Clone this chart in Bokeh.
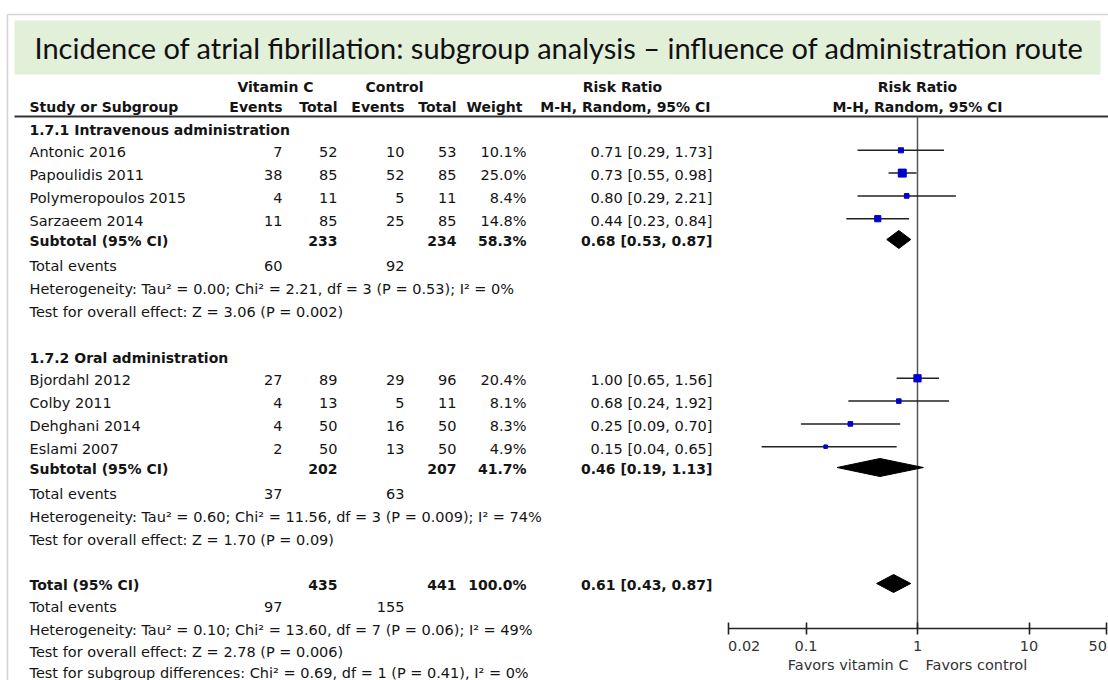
import math
from bokeh.plotting import figure
from bokeh.models import ColumnDataSource, Range1d, LogScale, LinearAxis, FixedTicker
from bokeh.core.properties import value
from bokeh.embed import file_html
from bokeh.resources import INLINE

# ---------------- data ----------------
TITLE = "Incidence of atrial fibrillation: subgroup analysis \u2013 influence of administration route"

iv_label = "1.7.1 Intravenous administration"
iv_studies = ["Antonic 2016", "Papoulidis 2011", "Polymeropoulos 2015", "Sarzaeem 2014"]
iv_vc_events = [7, 38, 4, 11]
iv_vc_total = [52, 85, 11, 85]
iv_ct_events = [10, 52, 5, 25]
iv_ct_total = [53, 85, 11, 85]
iv_weight = [10.1, 25.0, 8.4, 14.8]
iv_rr = [0.71, 0.73, 0.80, 0.44]
iv_lo = [0.29, 0.55, 0.29, 0.23]
iv_hi = [1.73, 0.98, 2.21, 0.84]
iv_sub = dict(vc_total=233, ct_total=234, weight=58.3, rr=0.68, lo=0.53, hi=0.87,
              vc_events=60, ct_events=92)
iv_het = "Heterogeneity: Tau\u00b2 = 0.00; Chi\u00b2 = 2.21, df = 3 (P = 0.53); I\u00b2 = 0%"
iv_test = "Test for overall effect: Z = 3.06 (P = 0.002)"

or_label = "1.7.2 Oral administration"
or_studies = ["Bjordahl 2012", "Colby 2011", "Dehghani 2014", "Eslami 2007"]
or_vc_events = [27, 4, 4, 2]
or_vc_total = [89, 13, 50, 50]
or_ct_events = [29, 5, 16, 13]
or_ct_total = [96, 11, 50, 50]
or_weight = [20.4, 8.1, 8.3, 4.9]
or_rr = [1.00, 0.68, 0.25, 0.15]
or_lo = [0.65, 0.24, 0.09, 0.04]
or_hi = [1.56, 1.92, 0.70, 0.65]
or_sub = dict(vc_total=202, ct_total=207, weight=41.7, rr=0.46, lo=0.19, hi=1.13,
              vc_events=37, ct_events=63)
or_het = "Heterogeneity: Tau\u00b2 = 0.60; Chi\u00b2 = 11.56, df = 3 (P = 0.009); I\u00b2 = 74%"
or_test = "Test for overall effect: Z = 1.70 (P = 0.09)"

tot = dict(vc_total=435, ct_total=441, weight=100.0, rr=0.61, lo=0.43, hi=0.87,
           vc_events=97, ct_events=155)
tot_het = "Heterogeneity: Tau\u00b2 = 0.10; Chi\u00b2 = 13.60, df = 7 (P = 0.06); I\u00b2 = 49%"
tot_test = "Test for overall effect: Z = 2.78 (P = 0.006)"
sub_diff = "Test for subgroup differences: Chi\u00b2 = 0.69, df = 1 (P = 0.41), I\u00b2 = 0%"

tick_values = [0.02, 0.1, 1, 10, 50]
tick_labels = ["0.02", "0.1", "1", "10", "50"]
favors_left = "Favors vitamin C"
favors_right = "Favors control"
NULL_RR = 1.0

# ---------------- layout ----------------
W, H = 1108, 680
FONT = "DejaVu Sans"
FS = "14.5px"
FSB = "14px"
TXT = "#141414"

X_NAME = 29
X_VCE, X_VCT, X_CTE, X_CTT, X_W, X_RR = 282, 337, 404, 456, 526, 712
PX_ONE, PX_DECADE = 917.0, 111.5

ROW0, ROWH = 129.0, 22.8
def ry(i, adj=0.0):
    return ROW0 + i * ROWH + adj

p = figure(width=W, height=H, x_range=Range1d(0, W), y_range=Range1d(H, 0),
           output_backend="svg", toolbar_location=None,
           x_axis_type=None, y_axis_type=None, min_border=0,
           outline_line_color=None, background_fill_color="white")

start = 10 ** (math.log10(NULL_RR) - PX_ONE / PX_DECADE)
end = 10 ** (math.log10(NULL_RR) + (W - PX_ONE) / PX_DECADE)
p.extra_x_ranges = {"rr": Range1d(start, end)}
p.extra_x_scales = {"rr": LogScale()}

# frame and title band
p.segment(x0=[7, 7], y0=[14, 14], x1=[W, 7], y1=[14, H], line_color="#d4d4d4", line_width=1.5)
p.quad(left=[14], right=[1100], top=[20], bottom=[74], fill_color="#e2efd9", line_color=None)
p.text(x=[34], y=[47], text=[TITLE], text_font=value("Lato"), text_font_size="29px",
       text_baseline="middle", text_align="left", text_color="#111111")

# header line
p.segment(x0=[14], y0=[116], x1=[W], y1=[116], line_color="#333333", line_width=2)

texts = {}  # key: (align, bold) -> lists
def add(x, y, t, align="left", bold=False):
    d = texts.setdefault((align, bold), {"x": [], "y": [], "t": []})
    d["x"].append(x); d["y"].append(y); d["t"].append(t)

# headers
H1, H2 = 86, 106
add(275, H1, "Vitamin C", "center", True)
add(394, H1, "Control", "center", True)
add(622, H1, "Risk Ratio", "center", True)
add(X_NAME, H2, "Study or Subgroup", "left", True)
add(X_VCE, H2, "Events", "right", True)
add(X_VCT, H2, "Total", "right", True)
add(X_CTE, H2, "Events", "right", True)
add(X_CTT, H2, "Total", "right", True)
add(X_W - 4, H2, "Weight", "right", True)
add(X_RR - 2, H2, "M-H, Random, 95% CI", "right", True)

def fmt_ci(r, l, h):
    return f"{r:.2f} [{l:.2f}, {h:.2f}]"

study_rows, diamond_rows = [], []

def group(start_i, label, studies, vce, vct, cte, ctt, wt, rr, lo, hi, sub, het, test):
    add(X_NAME, ry(start_i), label, "left", True)
    for k, name in enumerate(studies):
        y = ry(start_i + 1 + k)
        add(X_NAME, y, name)
        add(X_VCE, y, str(vce[k]), "right")
        add(X_VCT, y, str(vct[k]), "right")
        add(X_CTE, y, str(cte[k]), "right")
        add(X_CTT, y, str(ctt[k]), "right")
        add(X_W, y, f"{wt[k]:.1f}%", "right")
        add(X_RR, y, fmt_ci(rr[k], lo[k], hi[k]), "right")
        study_rows.append((rr[k], lo[k], hi[k], wt[k], y))
    ys = ry(start_i + 5, -3)
    add(X_NAME, ys, "Subtotal (95% CI)", "left", True)
    add(X_VCT, ys, str(sub["vc_total"]), "right", True)
    add(X_CTT, ys, str(sub["ct_total"]), "right", True)
    add(X_W, ys, f"{sub['weight']:.1f}%", "right", True)
    add(X_RR, ys, fmt_ci(sub["rr"], sub["lo"], sub["hi"]), "right", True)
    diamond_rows.append((sub["rr"], sub["lo"], sub["hi"], ys))
    ye = ry(start_i + 6)
    add(X_NAME, ye, "Total events")
    add(X_VCE, ye, str(sub["vc_events"]), "right")
    add(X_CTE, ye, str(sub["ct_events"]), "right")
    add(X_NAME, ry(start_i + 7), het)
    add(X_NAME, ry(start_i + 8), test)

group(0, iv_label, iv_studies, iv_vc_events, iv_vc_total, iv_ct_events, iv_ct_total,
      iv_weight, iv_rr, iv_lo, iv_hi, iv_sub, iv_het, iv_test)
group(10, or_label, or_studies, or_vc_events, or_vc_total, or_ct_events, or_ct_total,
      or_weight, or_rr, or_lo, or_hi, or_sub, or_het, or_test)

yt = ry(20, -1)
add(X_NAME, yt, "Total (95% CI)", "left", True)
add(X_VCT, yt, str(tot["vc_total"]), "right", True)
add(X_CTT, yt, str(tot["ct_total"]), "right", True)
add(X_W, yt, f"{tot['weight']:.1f}%", "right", True)
add(X_RR, yt, fmt_ci(tot["rr"], tot["lo"], tot["hi"]), "right", True)
diamond_rows.append((tot["rr"], tot["lo"], tot["hi"], yt))
add(X_NAME, ry(21, -1), "Total events")
add(X_VCE, ry(21, -1), str(tot["vc_events"]), "right")
add(X_CTE, ry(21, -1), str(tot["ct_events"]), "right")
add(X_NAME, ry(22, -1.5), tot_het)
add(X_NAME, ry(23, -2), tot_test)
add(X_NAME, ry(24, -4), sub_diff)

for (align, bold), d in texts.items():
    src = ColumnDataSource(dict(x=d["x"], y=d["y"], t=d["t"]))
    p.text(x="x", y="y", text="t", source=src, text_font=value(FONT),
           text_font_size=FSB if bold else FS,
           text_font_style="bold" if bold else "normal", text_align=align,
           text_baseline="middle", text_color=TXT)

# ---------------- forest plot ----------------
AXIS_Y = 628
p.segment(x0=[NULL_RR], y0=[116], x1=[NULL_RR], y1=[AXIS_Y], x_range_name="rr",
          line_color="#555555", line_width=1.5)

s_rr = [r[0] for r in study_rows]
s_lo = [r[1] for r in study_rows]
s_hi = [r[2] for r in study_rows]
s_w = [r[3] for r in study_rows]
s_y = [r[4] - 2 for r in study_rows]
ci_src = ColumnDataSource(dict(rr=s_rr, lo=s_lo, hi=s_hi, y=s_y,
                               size=[1.6 * math.sqrt(w) for w in s_w]))
p.segment(x0="lo", y0="y", x1="hi", y1="y", source=ci_src, x_range_name="rr",
          line_color="#222222", line_width=1.5)
p.scatter(x="rr", y="y", size="size", marker="square", source=ci_src, x_range_name="rr",
          fill_color="#0000cc", line_color="#0000cc")

DH = 9
p.patches(xs=[[lo, rr, hi, rr] for rr, lo, hi, y in diamond_rows],
          ys=[[y - 1, y - 1 - DH, y - 1, y - 1 + DH] for rr, lo, hi, y in diamond_rows],
          x_range_name="rr", fill_color="black", line_color="black")

axis = LinearAxis(x_range_name="rr", fixed_location=AXIS_Y, bounds=(tick_values[0], tick_values[-1]),
                  ticker=FixedTicker(ticks=tick_values, minor_ticks=[]),
                  major_tick_in=6, major_tick_out=6, minor_tick_in=0, minor_tick_out=0,
                  axis_line_width=1.6, axis_line_color="#222222",
                  major_tick_line_width=1.6, major_tick_line_color="#222222",
                  major_label_text_color=None, major_label_text_font_size="1px")
p.add_layout(axis, "below")

aligns = ["left"] + ["center"] * (len(tick_values) - 2) + ["right"]
for v, lab, al in zip(tick_values, tick_labels, aligns):
    p.text(x=[v], y=[AXIS_Y + 17], text=[lab], x_range_name="rr", text_font=value(FONT),
           text_font_size=FS, text_align=al, text_baseline="middle", text_color="#333333")

p.text(x=[NULL_RR], y=[AXIS_Y + 36], text=[favors_left], x_range_name="rr", x_offset=-9,
       text_font=value(FONT), text_font_size=FS, text_align="right", text_baseline="middle",
       text_color="#333333")
p.text(x=[NULL_RR], y=[AXIS_Y + 36], text=[favors_right], x_range_name="rr", x_offset=8,
       text_font=value(FONT), text_font_size=FS, text_align="left", text_baseline="middle",
       text_color="#333333")

# right-hand header over the plot
p.text(x=[NULL_RR, NULL_RR], y=[H1, H2], text=["Risk Ratio", "M-H, Random, 95% CI"],
       x_range_name="rr", text_font=value(FONT), text_font_size=FSB, text_font_style="bold",
       text_align="center", text_baseline="middle", text_color=TXT)

open("out.html", "w").write(file_html(p, INLINE))
